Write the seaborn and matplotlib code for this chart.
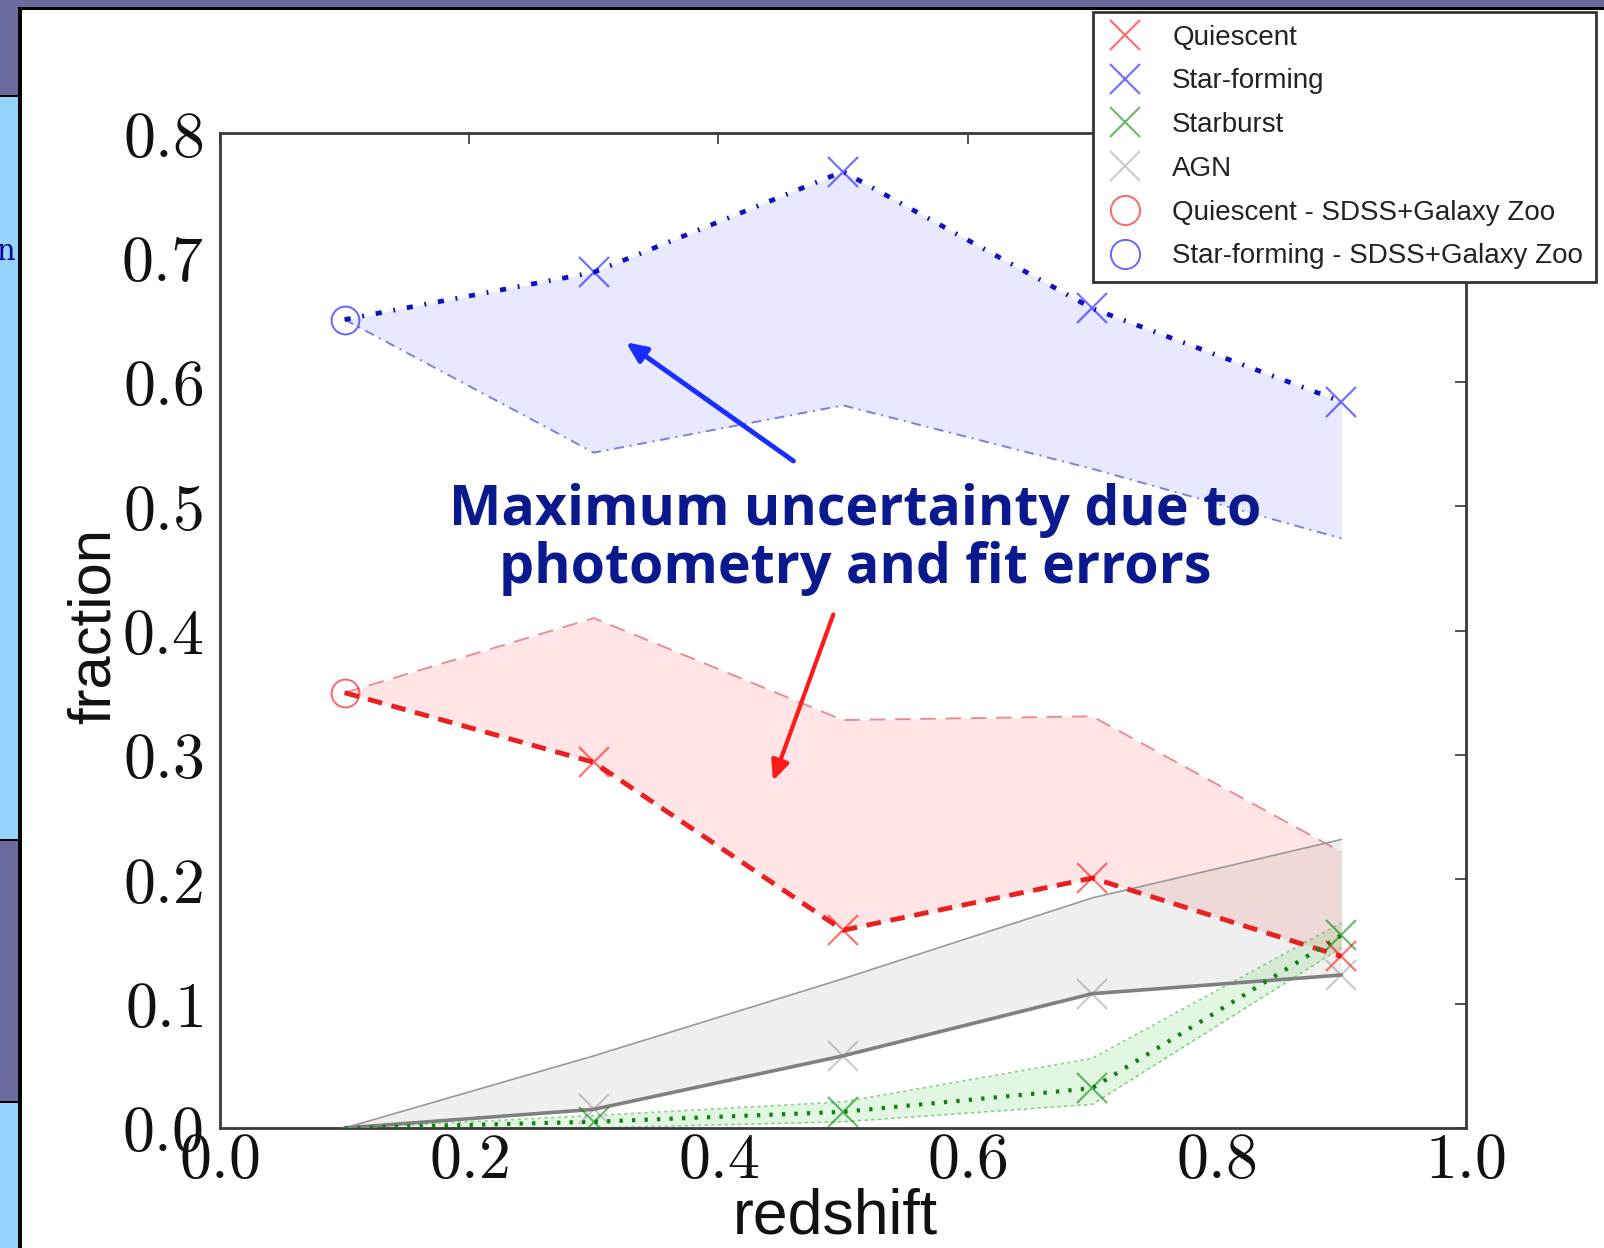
import numpy as np
import pandas as pd
import seaborn as sns
import matplotlib
matplotlib.use("Agg")
import matplotlib.pyplot as plt
from matplotlib.patches import Rectangle
from matplotlib.lines import Line2D

# ---------------- data ----------------
redshift = [0.1, 0.3, 0.5, 0.7, 0.9]
quiescent = [0.35, 0.294, 0.159, 0.201, 0.138]
quiescent_upper = [0.35, 0.41, 0.328, 0.331, 0.222]
starforming = [0.65, 0.688, 0.769, 0.659, 0.584]
starforming_lower = [0.65, 0.543, 0.581, 0.53, 0.474]
starburst = [0.0, 0.005, 0.013, 0.032, 0.155]
starburst_lower = [0.0, 0.0, 0.005, 0.019, 0.145]
starburst_upper = [0.0, 0.01, 0.021, 0.056, 0.165]
agn = [0.0, 0.015, 0.058, 0.108, 0.123]
agn_upper = [0.0, 0.058, 0.12, 0.185, 0.232]

xticks = [0.0, 0.2, 0.4, 0.6, 0.8, 1.0]
yticks = [0.0, 0.1, 0.2, 0.3, 0.4, 0.5, 0.6, 0.7, 0.8]
legend_labels = ["Quiescent", "Star-forming", "Starburst", "AGN",
                 "Quiescent - SDSS+Galaxy Zoo", "Star-forming - SDSS+Galaxy Zoo"]
note_text = "Maximum uncertainty due to\nphotometry and fit errors"

# ---------------- style ----------------
sns.set_theme(style="white")
plt.rcParams["font.family"] = ["Liberation Sans", "DejaVu Sans"]
plt.rcParams["mathtext.fontset"] = "cm"

W, H = 1604, 1248
fig = plt.figure(figsize=(W / 100, H / 100), dpi=100)
fig.patch.set_facecolor("white")

def px_rect(x0, y0, x1, y1, color, z=0):
    fig.patches.append(Rectangle((x0 / W, 1 - y1 / H), (x1 - x0) / W, (y1 - y0) / H,
                                 transform=fig.transFigure, facecolor=color,
                                 edgecolor="none", zorder=z))

purple = "#6a6a9c"
lblue = "#94d4fc"
# slide decorations
px_rect(0, 0, W, 8, purple)
px_rect(0, 0, 18, 96, purple)
px_rect(0, 96, 18, 840, lblue)
px_rect(0, 840, 18, 1102, purple)
px_rect(0, 1102, 18, H, lblue)
px_rect(18, 7, 22, H, "black")
px_rect(18, 7, W, 10, "black")
for yy in (95, 839, 1101):
    px_rect(0, yy, 18, yy + 2, "black")
fig.text(16 / W, 1 - 260 / H, "n", ha="right", va="baseline", fontsize=21,
         family="DejaVu Serif", color="#000099")

ax = fig.add_axes([220 / W, 1 - 1128 / H, 1246 / W, 995 / H])
ax.set_facecolor("white")

# fills
ax.fill_between(redshift, starforming_lower, starforming, color="blue", alpha=0.09, lw=0, zorder=1)
ax.fill_between(redshift, quiescent, quiescent_upper, color="red", alpha=0.1, lw=0, zorder=1)
ax.fill_between(redshift, agn, agn_upper, color="gray", alpha=0.12, lw=0, zorder=1)
ax.fill_between(redshift, starburst_lower, starburst_upper, color="limegreen", alpha=0.14, lw=0, zorder=1)

# bound lines
sns.lineplot(x=redshift, y=starforming_lower, ax=ax, color="#3333cc", alpha=0.6,
             linestyle=(0, (5, 3, 1, 3)), linewidth=1.4, zorder=2)
sns.lineplot(x=redshift, y=quiescent_upper, ax=ax, color="#e06070", alpha=0.7,
             linestyle=(0, (8, 5)), linewidth=1.4, zorder=2)
sns.lineplot(x=redshift, y=agn_upper, ax=ax, color="#999999",
             linestyle="-", linewidth=1.2, zorder=2)
sns.lineplot(x=redshift, y=starburst_lower, ax=ax, color="#66bb66", alpha=0.7,
             linestyle=(0, (2, 2)), linewidth=1.2, zorder=2)
sns.lineplot(x=redshift, y=starburst_upper, ax=ax, color="#66bb66", alpha=0.7,
             linestyle=(0, (2, 2)), linewidth=1.2, zorder=2)

# main lines
sns.lineplot(x=redshift, y=starforming, ax=ax, color="#1010c0",
             linestyle=(0, (1.3, 2.5, 0.4, 2.5)), linewidth=3.4, zorder=3)
sns.lineplot(x=redshift, y=quiescent, ax=ax, color="#e82020",
             linestyle=(0, (3, 2)), linewidth=3.5, zorder=3)
sns.lineplot(x=redshift, y=agn, ax=ax, color="#808080",
             linestyle="-", linewidth=2.6, zorder=3)
sns.lineplot(x=redshift, y=starburst, ax=ax, color="#108010",
             linestyle=(0, (0.8, 2.2)), linewidth=3.0, zorder=3)

# markers
mk = dict(ls="none", marker="x", ms=21, mew=1.6, alpha=0.55, zorder=4)
ax.plot(redshift[1:], quiescent[1:], color="red", **mk)
ax.plot(redshift[1:], starforming[1:], color="blue", **mk)
ax.plot(redshift[1:], starburst[1:], color="green", **mk)
ax.plot(redshift[1:], agn[1:], color="gray", alpha=0.4, ls="none", marker="x", ms=21, mew=1.6, zorder=4)
ax.plot(redshift[:1], quiescent[:1], ls="none", marker="o", ms=20, mfc="none", mec="red", mew=1.4, alpha=0.6, zorder=4)
ax.plot(redshift[:1], starforming[:1], ls="none", marker="o", ms=20, mfc="none", mec="blue", mew=1.4, alpha=0.6, zorder=4)

ax.set_xlim(0, 1)
ax.set_ylim(0, 0.8)
ax.set_xticks(xticks)
ax.set_yticks(yticks)
ax.set_xticklabels([f"${v:.1f}$" for v in xticks])
ax.set_yticklabels([f"${v:.1f}$" for v in yticks])
ax.tick_params(direction="in", length=8, width=1.2, color="#333333",
               top=True, right=True, labelsize=46, labelcolor="#111111")
ax.tick_params(axis="x", pad=2)
ax.tick_params(axis="y", pad=12)
for s in ax.spines.values():
    s.set_color("#3a3a3a")
    s.set_linewidth(2)

ax.set_xlabel("redshift", fontsize=45, color="#111111")
ax.set_ylabel("fraction", fontsize=43, color="#111111")
ax.xaxis.set_label_coords(0.494, -0.060)
ax.yaxis.label.set_va("center")
ax.yaxis.set_label_coords(-0.101, 0.505)

# annotation
ax.text(0.51, 0.473, note_text, ha="center", va="center", fontsize=40,
        fontweight="bold", family=["Open Sans", "DejaVu Sans"], color="#0a1a8e",
        linespacing=1.08, zorder=6)
ax.annotate("", xy=(0.324, 0.633), xytext=(0.462, 0.535),
            arrowprops=dict(arrowstyle="-|>,head_length=1.0,head_width=0.45", color="#1a2dff", lw=3.5), zorder=6)
ax.annotate("", xy=(0.443, 0.277), xytext=(0.493, 0.415),
            arrowprops=dict(arrowstyle="-|>,head_length=1.0,head_width=0.45", color="#ff1a1a", lw=3), zorder=6)

# legend
handles = [
    Line2D([], [], ls="none", marker="x", ms=22, mew=1.6, color="red", alpha=0.55),
    Line2D([], [], ls="none", marker="x", ms=22, mew=1.6, color="blue", alpha=0.55),
    Line2D([], [], ls="none", marker="x", ms=22, mew=1.6, color="green", alpha=0.55),
    Line2D([], [], ls="none", marker="x", ms=22, mew=1.6, color="gray", alpha=0.4),
    Line2D([], [], ls="none", marker="o", ms=21, mfc="none", mec="red", mew=1.4, alpha=0.6),
    Line2D([], [], ls="none", marker="o", ms=21, mfc="none", mec="blue", mew=1.4, alpha=0.6),
]
leg = fig.legend(handles, legend_labels, loc="upper left",
                 bbox_to_anchor=(1093 / W, 1 - 12 / H), borderaxespad=0,
                 fontsize=20, frameon=True, fancybox=False, framealpha=1,
                 edgecolor="#333333", handlelength=1.4, handletextpad=1.0,
                 borderpad=0.45, labelspacing=0.64)
leg.get_frame().set_linewidth(2)
leg.set_zorder(10)
for t in leg.get_texts():
    t.set_color("#222222")

fig.savefig("out.png", dpi=100, facecolor=fig.get_facecolor())
